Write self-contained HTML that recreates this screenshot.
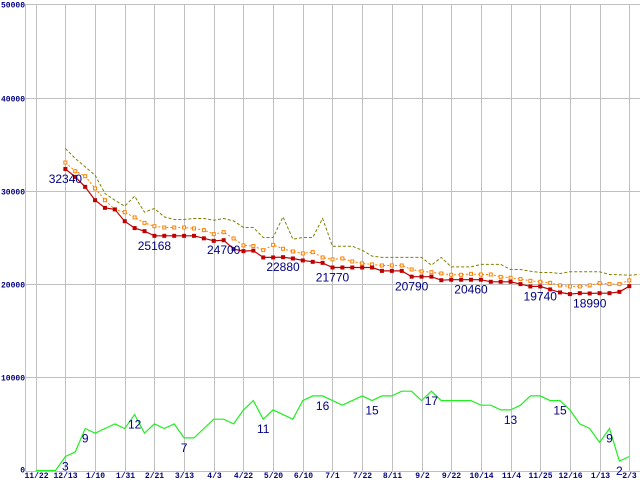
<!DOCTYPE html>
<html><head><meta charset="utf-8"><style>
html,body{margin:0;padding:0;background:#fff}
svg{display:block}
</style></head><body>
<svg id="chart" width="640" height="480" xmlns="http://www.w3.org/2000/svg"></svg>
<script>
const xLabels=["11/22","12/13","1/10","1/31","2/21","3/13","4/3","4/22","5/20","6/10","7/1","7/22","8/11","9/2","9/22","10/14","11/4","11/25","12/16","1/13","2/3"];
const yTicks=[0,10000,20000,30000,40000,50000];
const redVals=[32340,31490,30420,28990,28170,28000,26740,26000,25670,25168,25168,25168,25168,25168,24900,24630,24700,23750,23530,23580,22850,22850,22880,22740,22530,22380,22270,21770,21770,21770,21770,21770,21410,21410,21410,20790,20790,20790,20410,20460,20460,20460,20460,20240,20240,20240,19990,19740,19740,19420,19100,18920,19020,18990,19020,19020,19160,19770];
const orangeVals=[33030,32100,31560,30250,28990,28000,27700,27140,26560,26200,26060,26060,26060,25960,25780,25350,25560,24890,24140,24080,23630,24200,23780,23490,23280,23420,22850,22640,22740,22420,22210,22100,21990,21990,21990,21560,21350,21270,21130,20990,20990,21090,21020,21020,20770,20670,20530,20340,20240,20130,19850,19740,19740,19850,20100,19990,19990,20390];
const oliveVals=[34530,33460,32560,31660,29710,28990,28350,29420,27700,28100,27200,26920,26920,27030,27030,26850,27030,26770,26060,26060,24990,24990,27200,24810,24990,24990,27030,24060,24060,24060,23630,22990,22850,22850,22850,22850,22850,22020,22850,21840,21840,21840,22100,22100,22100,21560,21560,21380,21240,21240,21130,21310,21310,21310,21310,21020,21000,20950,21020];
const greenVals=[0,0,0,3,4,9,8,9,10,9,12,8,10,9,10,7,7,9,11,11,10,13,15,11,13,12,11,15,16,16,15,14,15,16,15,16,16,17,17,15,17,15,15,15,15,14,14,13,13,14,16,16,15,15,13,10,9,6,9,2,3];
const redLabelIdx=[0,9,16,22,27,35,41,48,53];
const greenLabelIdx=[3,5,10,15,23,29,34,40,48,53,58,59];

const svg=document.getElementById('chart');
const NS='http://www.w3.org/2000/svg';
const X0=35.7, WSTEP=9.893, Y0=470.5, YS=(470.5-4.3)/50000, GMUL=500;
const xw=i=>X0+i*WSTEP;
const yv=v=>Y0-v*YS;
function mk(tag,attrs,parent){const e=document.createElementNS(NS,tag);for(const k in attrs)e.setAttribute(k,attrs[k]);(parent||svg).appendChild(e);return e;}

const grid=mk('g',{});


mk('line',{x1:25.5,y1:4,x2:25.5,y2:471,stroke:'#c0c0c0'},grid);
yTicks.forEach(t=>{
  const y=Math.round(yv(t))+0.5;
  const l=mk('line',{x1:25.5,y1:y,x2:640,y2:y,stroke:'#c0c0c0'},grid);
  
  
  const tx=mk('text',{x:25,y:t===0?y+1:y+3,'text-anchor':'end','font-family':'Liberation Mono, monospace','font-size':'8','font-weight':'bold',fill:'#000080'});
  tx.textContent=String(t);
  
  
});
xLabels.forEach((lab,i)=>{
  const x=Math.round(xw(i*3))+0.5;
  const l=mk('line',{x1:x,y1:4,x2:x,y2:471,stroke:'#c0c0c0'},grid);
  
  
  const tx=mk('text',{x:x,y:478,'text-anchor':'middle','font-family':'Liberation Mono, monospace','font-size':'8','font-weight':'bold',fill:'#000080'});
  tx.textContent=lab;
  
  
});

function pts(vals,off,mul){return vals.map((v,i)=>xw(i+off).toFixed(1)+','+yv(v*mul).toFixed(1)).join(' ');}
const OFF=3;
const olive=mk('polyline',{points:pts(oliveVals,OFF,1),fill:'none',stroke:'#808000','stroke-width':1,'stroke-dasharray':'3,2'});


const orange=mk('polyline',{points:pts(orangeVals,OFF,1),fill:'none',stroke:'#ff8000','stroke-width':1,'stroke-dasharray':'2,2'});


orangeVals.forEach((v,i)=>{
  const r=mk('rect',{x:xw(i+OFF)-1.5,y:yv(v)-1.5,width:3,height:3,fill:'#fff',stroke:'#ff8000','stroke-width':1});
  
  
});
const red=mk('polyline',{points:pts(redVals,OFF,1),fill:'none',stroke:'#c00000','stroke-width':1.2});


redVals.forEach((v,i)=>{
  const r=mk('rect',{x:xw(i+OFF)-2,y:yv(v)-2,width:4,height:4,fill:'#c00000'});
  
  
});
const green=mk('polyline',{points:pts(greenVals,0,GMUL),fill:'none',stroke:'#22ee22','stroke-width':1.2});



redLabelIdx.forEach(i=>{
  const t=mk('text',{x:xw(i+OFF),y:yv(redVals[i])+14,'text-anchor':'middle','font-family':'Liberation Sans, sans-serif','font-size':'12',fill:'#000080'});
  t.textContent=String(redVals[i]);
  
  
});
greenLabelIdx.forEach(i=>{
  const t=mk('text',{x:xw(i),y:yv(greenVals[i]*GMUL)+14,'text-anchor':'middle','font-family':'Liberation Sans, sans-serif','font-size':'12',fill:'#000080'});
  t.textContent=String(greenVals[i]);
  
  
});
</script>
</body></html>
